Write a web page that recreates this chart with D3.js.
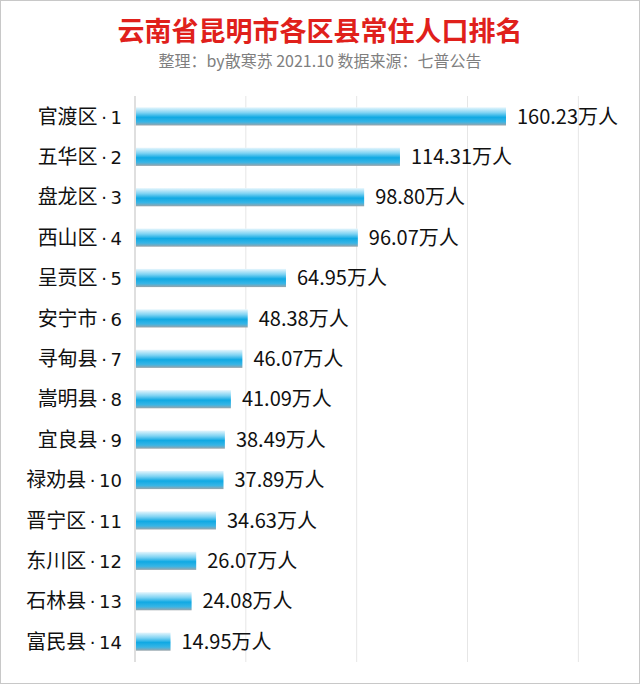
<!DOCTYPE html>
<html><head><meta charset="utf-8">
<script src="https://cdn.jsdelivr.net/npm/d3@7"></script>
<style>body{margin:0;background:#fff}svg{display:block}</style>
</head><body>
<script>
// data
var names = ["官渡区","五华区","盘龙区","西山区","呈贡区","安宁市","寻甸县","嵩明县","宜良县","禄劝县","晋宁区","东川区","石林县","富民县"];
var values = [160.23,114.31,98.80,96.07,64.95,48.38,46.07,41.09,38.49,37.89,34.63,26.07,24.08,14.95];
var gridTicks = [48,96,144,192];

var W = 640, H = 684;
var svg = d3.select("body").append("svg").attr("width", W).attr("height", H)
  .style("font-family", "'Noto Sans CJK SC', sans-serif");

svg.append("rect").attr("x",0.5).attr("y",0.5).attr("width",W-1).attr("height",H-1)
  .attr("fill","#fff").attr("stroke","#c8c8c8");

var defs = svg.append("defs");
var g = defs.append("linearGradient").attr("id","bar").attr("x1",0).attr("y1",0).attr("x2",0).attr("y2",1);
[[0,"#e6f6fd"],[0.3,"#7fd3f3"],[0.55,"#10a9e3"],[0.8,"#37b5e6"],[1,"#9aa4aa"]].forEach(function(s){
  g.append("stop").attr("offset",s[0]).attr("stop-color",s[1]);
});

svg.append("text").attr("x",320).attr("y",41).attr("text-anchor","middle")
  .attr("fill","#e0201b").attr("font-size",27).attr("font-weight","bold").text("云南省昆明市各区县常住人口排名");
svg.append("text").attr("x",320).attr("y",67).attr("text-anchor","middle")
  .attr("fill","#7f7f7f").attr("font-size",16).text("整理：by散寒苏  2021.10  数据来源：七普公告");

var x = d3.scaleLinear().domain([0,160.23]).range([135,505]);
var y = d3.scaleBand().domain(names).range([96,662]).paddingInner(0.55).paddingOuter(0.28);

svg.selectAll(".grid").data(gridTicks).enter().append("line")
  .attr("x1",function(d){return x(d);}).attr("x2",function(d){return x(d);})
  .attr("y1",96).attr("y2",662).attr("stroke","#e6e6e6");
svg.append("line").attr("x1",x(0)).attr("x2",x(0)).attr("y1",96).attr("y2",662).attr("stroke","#bfbfbf");

svg.selectAll(".bar").data(values).enter().append("rect")
  .attr("x",x(0)+1).attr("y",function(d,i){return y(names[i]);})
  .attr("width",function(d){return x(d)-x(0);}).attr("height",y.bandwidth())
  .attr("fill","url(#bar)");

svg.selectAll(".val").data(values).enter().append("text")
  .attr("x",function(d){return x(d)+12;})
  .attr("y",function(d,i){return y(names[i])+y.bandwidth()/2;})
  .attr("dy","0.36em").attr("font-size",20).attr("fill","#111")
  .text(function(d){return d.toFixed(2)+"万人";});

var lab = svg.selectAll(".lab").data(names).enter().append("text")
  .attr("x",122).attr("y",function(d){return y(d)+y.bandwidth()/2;})
  .attr("dy","0.36em").attr("text-anchor","end").attr("font-size",20).attr("fill","#111");
lab.append("tspan").text(function(d){return d;});
lab.append("tspan").attr("font-family","'DejaVu Sans'").attr("font-size",18)
  .text(function(d,i){return "\u2009\u00b7\u2009"+(i+1);});
</script>
</body></html>
